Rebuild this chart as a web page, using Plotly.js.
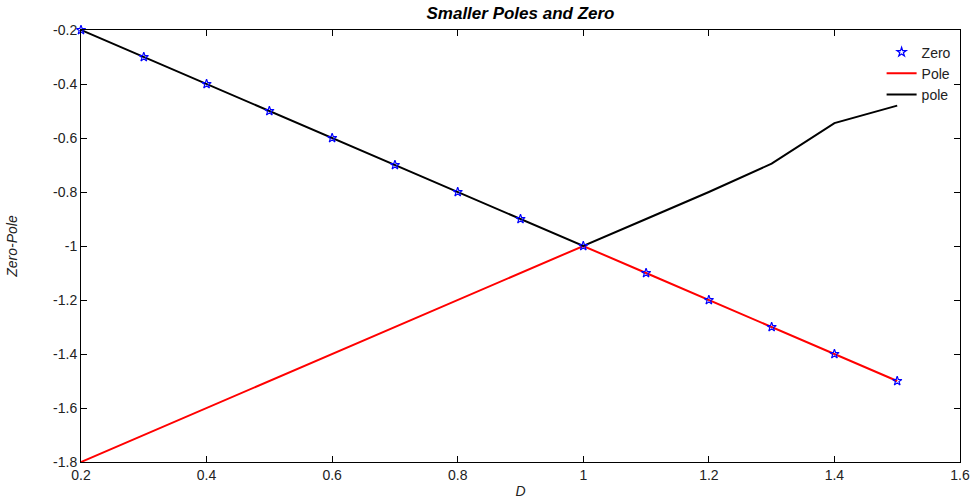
<!DOCTYPE html>
<html>
<head>
<meta charset="utf-8">
<script src="https://cdn.plot.ly/plotly-3.0.1.min.js"></script>
<style>body{margin:0;background:#fff}#chart{width:975px;height:503px}</style>
</head>
<body>
<div id="chart"></div>
<script>
const D = [0.2,0.3,0.4,0.5,0.6,0.7,0.8,0.9,1.0,1.1,1.2,1.3,1.4,1.5];
const zeroVals = [-0.2,-0.3,-0.4,-0.5,-0.6,-0.7,-0.8,-0.9,-1.0,-1.1,-1.2,-1.3,-1.4,-1.5];
const poleRed = [-1.8,-1.7,-1.6,-1.5,-1.4,-1.3,-1.2,-1.1,-1.0,-1.1,-1.2,-1.3,-1.4,-1.5];
const poleBlack = [-0.2,-0.3,-0.4,-0.5,-0.6,-0.7,-0.8,-0.9,-1.0,-0.9,-0.8,-0.695,-0.545,-0.48];
const xTickVals = [0.2,0.4,0.6,0.8,1.0,1.2,1.4,1.6];
const xTickText = ['0.2','0.4','0.6','0.8','1','1.2','1.4','1.6'];
const yTickVals = [-1.8,-1.6,-1.4,-1.2,-1.0,-0.8,-0.6,-0.4,-0.2];
const yTickText = ['-1.8','-1.6','-1.4','-1.2','-1','-0.8','-0.6','-0.4','-0.2'];

const font = 'Liberation Sans, Arial, sans-serif';
const traces = [
  {x: D, y: poleRed, name: 'Pole', mode: 'lines', type: 'scatter',
   line: {color: '#ff0000', width: 2}, legendrank: 2},
  {x: D, y: poleBlack, name: 'pole', mode: 'lines', type: 'scatter',
   line: {color: '#000000', width: 2}, legendrank: 3},
  {x: D, y: zeroVals, name: 'Zero', mode: 'markers', type: 'scatter', cliponaxis: false,
   marker: {symbol: 'star-open', color: '#0000ff', size: 7, line: {width: 1.2, color: '#0000ff'}}, legendrank: 1}
];
const axisCommon = {
  showline: true, linecolor: '#000', linewidth: 1, mirror: 'ticks',
  ticks: 'inside', ticklen: 6, tickcolor: '#000', showgrid: false, zeroline: false,
  tickfont: {family: font, size: 14, color: '#222'}
};
const layout = {
  width: 975, height: 503,
  margin: {l: 81, r: 15, t: 30, b: 41},
  paper_bgcolor: '#fff', plot_bgcolor: '#fff',
  showlegend: true,
  title: {text: '<b><i>Smaller Poles and Zero</i></b>', font: {family: font, size: 17, color: '#000'},
          x: 0.5, xref: 'paper', y: 0.975, yanchor: 'middle'},
  xaxis: Object.assign({}, axisCommon, {range: [0.2, 1.6], tickvals: xTickVals, ticktext: xTickText,
    title: {text: '<i>D</i>', font: {family: font, size: 14, color: '#222'}, standoff: 4}}),
  yaxis: Object.assign({}, axisCommon, {range: [-1.8, -0.2], tickvals: yTickVals, ticktext: yTickText,
    title: {text: '<i>Zero-Pole</i>', font: {family: font, size: 14, color: '#222'}, standoff: 32}}),
  legend: {x: 0.995, y: 0.985, xanchor: 'right', yanchor: 'top', bgcolor: 'rgba(255,255,255,0)',
    borderwidth: 0, font: {family: font, size: 14, color: '#222'}, tracegroupgap: 0}
};
Plotly.newPlot('chart', traces, layout, {displayModeBar: false, staticPlot: true});
</script>
</body>
</html>
